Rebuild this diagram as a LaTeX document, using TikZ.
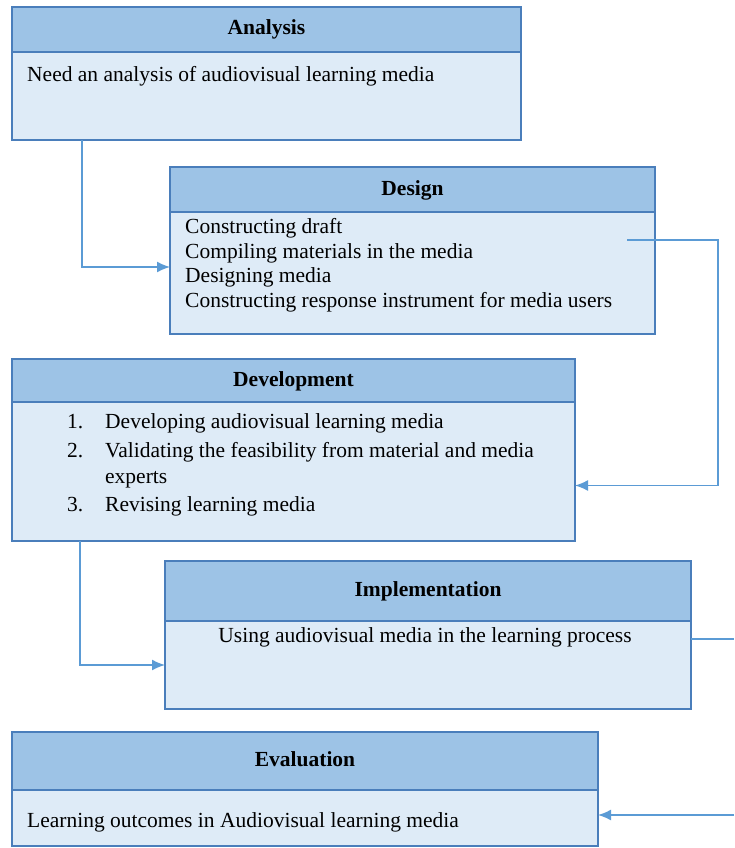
\documentclass[tikz,border=0pt]{standalone}
\usepackage{fontspec}
\setmainfont{Liberation Serif}
\usepackage{xcolor}
\usetikzlibrary{arrows.meta,positioning}
\definecolor{headblue}{HTML}{9DC3E6}
\definecolor{bodyblue}{HTML}{DEEBF7}
\definecolor{boxline}{HTML}{4A7EBB}
\definecolor{linkblue}{HTML}{5B9BD5}
\tikzset{
  head/.style={draw=boxline, fill=headblue, line width=1.6pt, anchor=north west, inner sep=0pt, outer sep=0pt, text height=15pt, text depth=4pt, font=\fontsize{21.5}{26}\selectfont\bfseries},
  body/.style={draw=boxline, fill=bodyblue, line width=1.6pt, inner sep=0pt, outer sep=0pt},
  txt/.style={inner sep=0pt, anchor=base west, font=\fontsize{21.5}{26}\selectfont},
  arr/.style={-{Latex[length=13pt,width=11pt]}, draw=linkblue, line width=1.5pt},
  link/.style={draw=linkblue, line width=1.5pt}
}
\begin{document}
\begin{tikzpicture}[x=1pt,y=-1pt]
\useasboundingbox (0,0) rectangle (734,848);

% boxes
\node[head, minimum width=509pt, minimum height=45pt] (anaHead) at (12,7) {Analysis};
\node[body, minimum width=509pt, minimum height=88pt, below=0pt of anaHead] (anaBody) {};
\node[head, minimum width=485pt, minimum height=45pt] (desHead) at (170,167) {Design};
\node[body, minimum width=485pt, minimum height=122pt, below=0pt of desHead] (desBody) {};
\node[head, minimum width=563pt, minimum height=43pt] (devHead) at (12,359) {Development};
\node[body, minimum width=563pt, minimum height=139pt, below=0pt of devHead] (devBody) {};
\node[head, minimum width=526pt, minimum height=60pt, line width=2.4pt] (impHead) at (165,561) {Implementation};
\node[body, minimum width=526pt, minimum height=88pt, below=0pt of impHead] (impBody) {};
\node[head, minimum width=586pt, minimum height=58pt] (evaHead) at (12,732) {Evaluation};
\node[body, minimum width=586pt, minimum height=56pt, below=0pt of evaHead] (evaBody) {};

% texts
\node[txt] (anaText) at (27,82) {Need an analysis of audiovisual learning media};
\node[txt] (desOne) at (185,233) {Constructing draft};
\node[txt] (desTwo) at (185,258) {Compiling materials in the media};
\node[txt] (desThree) at (185,282) {Designing media};
\node[txt] (desFour) at (185,307) {Constructing response instrument for media users};
\node[txt] (devNumOne) at (67,428) {1.};
\node[txt] (devOne) at (105,428) {Developing audiovisual learning media};
\node[txt] (devNumTwo) at (67,457) {2.};
\node[txt] (devTwo) at (105,457) {Validating the feasibility from material and media};
\node[txt] (devTwoB) at (105,483) {experts};
\node[txt] (devNumThree) at (67,511) {3.};
\node[txt] (devThree) at (105,511) {Revising learning media};
\node[txt, anchor=base] (impText) at (425,642) {Using audiovisual media in the learning process};
\node[txt] (evaText) at (27,827) {Learning outcomes in Audiovisual learning media};

% connectors
\coordinate (desOut) at (627,240);
\coordinate (impOut) at (734,639);
\coordinate (evaIn) at (734,815);
\draw[arr] ([xshift=70pt]anaBody.south west) |- ([yshift=6pt]desBody.west);
\draw[arr] (desOut) -- ++(91,0) |- ([yshift=-14pt]devBody.east);
\draw[arr] ([xshift=68pt]devBody.south west) |- (impBody.west);
\draw[link] ([yshift=26pt]impBody.east) -- (impOut);
\draw[arr] (evaIn) -- (evaIn -| evaBody.east);
\end{tikzpicture}
\end{document}
